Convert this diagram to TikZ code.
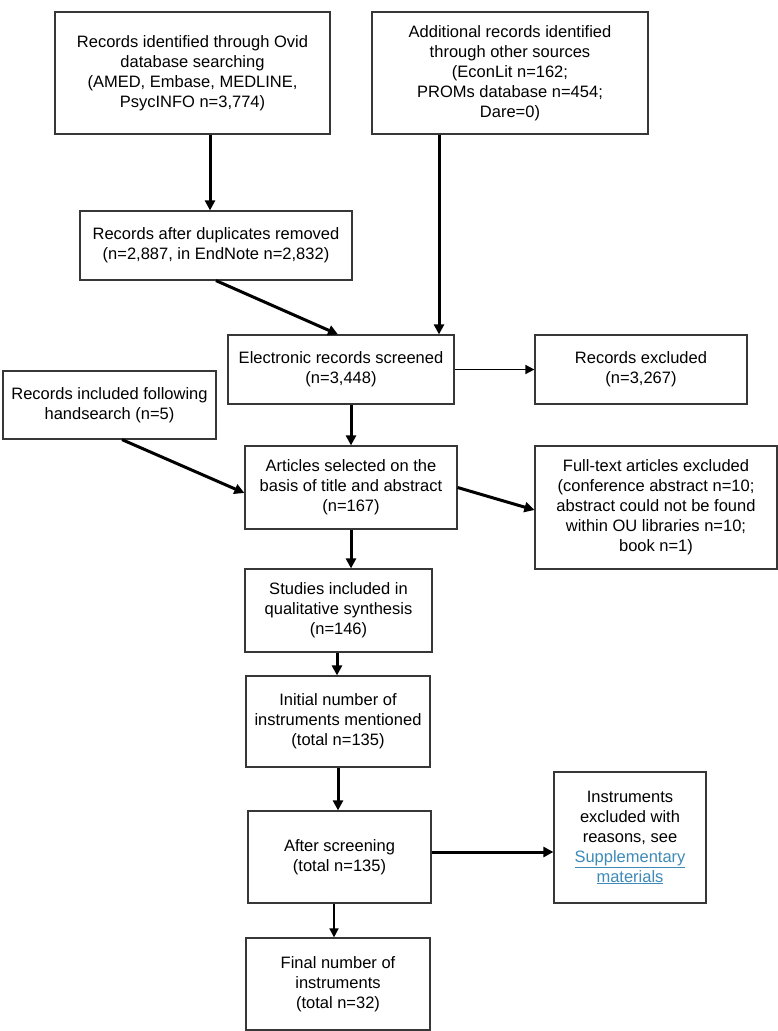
\documentclass[tikz,border=0pt]{standalone}
\usepackage{fontspec}
\setmainfont{Liberation Sans}
\usetikzlibrary{arrows.meta}
\definecolor{boxgray}{RGB}{55,55,55}
\definecolor{linkblue}{RGB}{62,138,184}
\begin{document}
\begin{tikzpicture}[x=1pt, y=-1pt, box node/.style={draw=boxgray, line width=1.2pt, align=center, inner sep=0pt, font=\fontsize{16.5}{20}\selectfont},
  flow/.style={-{Triangle[length=10pt,width=10pt]}, line width=3pt},
  thin flow/.style={-{Triangle[length=9pt,width=9pt]}, line width=1.6pt}]
                    \useasboundingbox (0, 0) rectangle (778, 1031);
                    \node[box node, minimum width=275pt, minimum height=122pt] at (192.5, 73) (ovid) {Records identified through Ovid\\database searching\\(AMED, Embase, MEDLINE,\\PsycINFO n=3,774)};
                    \node[box node, minimum width=276pt, minimum height=122pt] at (510, 73) (other) {Additional records identified\\through other sources\\(EconLit n=162;\\PROMs database n=454;\\Dare=0)};
                    \node[box node, minimum width=272pt, minimum height=69pt] at (216, 245.5) (dupl) {Records after duplicates removed\\(n=2,887, in EndNote n=2,832)};
                    \node[box node, minimum width=226pt, minimum height=69pt] at (341, 369.5) (screen) {Electronic records screened\\(n=3,448)};
                    \node[box node, minimum width=212pt, minimum height=69pt] at (641, 369.5) (recexcl) {Records excluded\\(n=3,267)};
                    \node[box node, minimum width=213pt, minimum height=68pt] at (109.5, 405) (hand) {Records included following\\handsearch (n=5)};
                    \node[box node, minimum width=212pt, minimum height=83pt] at (351, 487.5) (select) {Articles selected on the\\basis of title and abstract\\(n=167)};
                    \node[box node, minimum width=242pt, minimum height=123pt] at (656, 507.5) (ftexcl) {Full-text articles excluded\\(conference abstract n=10;\\abstract could not be found\\within OU libraries n=10;\\book n=1)};
                    \node[box node, minimum width=187pt, minimum height=83pt] at (338.5, 610.5) (studies) {Studies included in\\qualitative synthesis\\(n=146)};
                    \node[box node, minimum width=184pt, minimum height=91pt] at (338, 721.5) (initial) {Initial number of\\instruments mentioned\\(total n=135)};
                    \node[box node, minimum width=183pt, minimum height=92pt] at (339.5, 857) (after) {After screening\\(total n=135)};
                    \node[box node, minimum width=152pt, minimum height=131pt] at (630, 837.5) (instexcl) {Instruments\\excluded with\\reasons, see\\\textcolor{linkblue}{\underline{Supplementary}}\\\textcolor{linkblue}{\underline{materials}}};
                    \node[box node, minimum width=184pt, minimum height=92pt] at (338, 984) (final) {Final number of\\instruments\\(total n=32)};

                    \path[flow] ([xshift=17.5pt]ovid.south) edge ([xshift=17.5pt]ovid.south |- dupl.north);
                    \path[flow] ([xshift=-71pt]other.south) edge ([xshift=-71pt]other.south |- screen.north);
                    \path[flow] (dupl.south) edge ([xshift=-3pt]screen.north);
                    \path[thin flow] (screen.east) edge (recexcl.west);
                    \path[flow] (screen.south -| select.north) edge (select.north);
                    \path[flow] ([xshift=12.5pt]hand.south) edge ([yshift=-5.5pt]select.west);
                    \path[flow] (select.east) edge ([yshift=-2.5pt]ftexcl.west);
                    \path[flow] (select.south) edge (select.south |- studies.north);
                    \path[flow] ([xshift=-1.5pt]studies.south) edge ([xshift=-1.5pt]studies.south |- initial.north);
                    \path[flow] (initial.south) edge (initial.south |- after.north);
                    \path[flow] ([yshift=5pt]after.east) edge ([yshift=5pt]after.east -| instexcl.west);
                    \path[thin flow] ([xshift=-5.5pt]after.south) edge ([xshift=-5.5pt]after.south |- final.north);
                \end{tikzpicture}
\end{document}
